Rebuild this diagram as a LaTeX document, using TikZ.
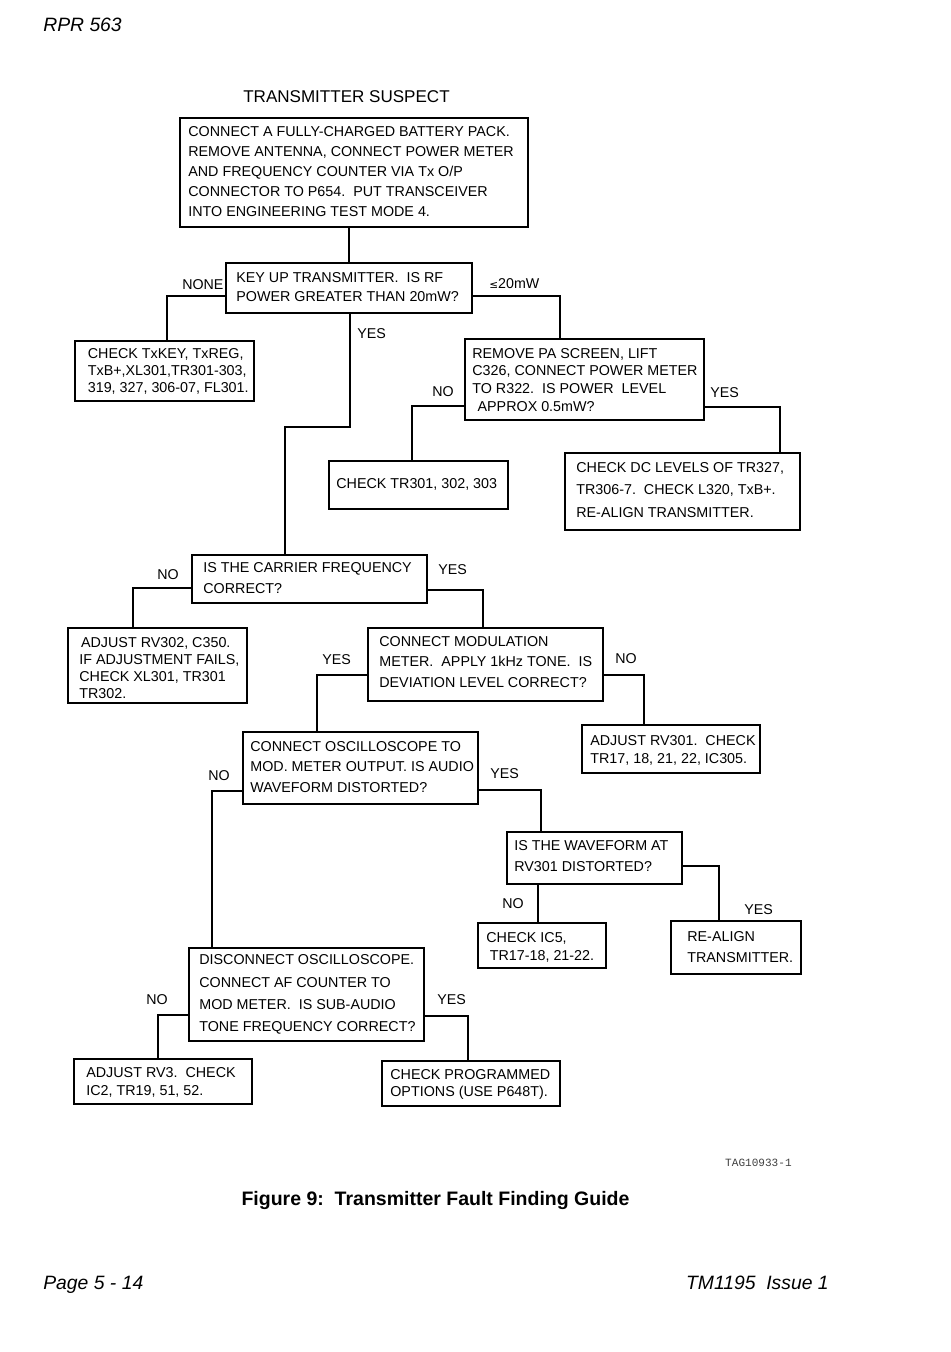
\documentclass[tikz,border=0pt]{standalone}
\usepackage{fontspec}
\setmainfont{Liberation Sans}
\newfontfamily\monofont{Liberation Mono}
\newfontfamily\symfont{DejaVu Sans}
\usetikzlibrary{calc,fit}
\begin{document}
\begin{tikzpicture}[x=0.02cm,y=-0.02cm,
  box/.style={draw, line width=1pt, inner sep=0pt, outer sep=0pt},
  txt/.style={anchor=west, inner sep=0pt, align=left, yshift=-0.02cm},
  lbl/.style={anchor=west, inner sep=0pt, font=\fontsize{8.1pt}{10pt}\selectfont},
  conn/.style={line width=1pt}]
\useasboundingbox[fill=white] (0,0) rectangle (950,1352);

% page furniture
\node[anchor=west, inner sep=0pt, font=\fontsize{11pt}{13pt}\selectfont\itshape] (hdr) at (43,25) {RPR 563};
\node[inner sep=0pt, font=\fontsize{9.7pt}{12pt}\selectfont] (title) at (346.5,96.5) {TRANSMITTER SUSPECT};
\node[anchor=east, inner sep=0pt, font=\fontsize{6.3pt}{8pt}\monofont, text=black!75] (tag) at (792,1163) {TAG10933-1};
\node[inner sep=0pt, font=\fontsize{11.1pt}{13pt}\selectfont\bfseries] (fig) at (435.5,1200.5) {Figure 9:\ \ Transmitter Fault Finding Guide};
\node[anchor=base west, inner sep=0pt, font=\fontsize{11pt}{13pt}\selectfont\itshape] (pg) at (43,1289) {Page 5 - 14};
\node[anchor=base east, inner sep=0pt, font=\fontsize{11pt}{13pt}\selectfont\itshape] (tm) at (829,1289) {TM1195\ \ Issue 1};

% boxes
\node[box, fit={(180,118) (528,227)}] (top) {};
\node[box, fit={(226,263) (472,313)}] (keyup) {};
\node[box, fit={(75,341) (254,401)}] (txkey) {};
\node[box, fit={(465,339) (704,420)}] (pa) {};
\node[box, fit={(329,461) (508,509)}] (tr301) {};
\node[box, fit={(565,453) (800,530)}] (dc) {};
\node[box, fit={(192,555) (427,603)}] (carrier) {};
\node[box, fit={(68,628) (247,703)}] (rv302) {};
\node[box, fit={(368,628) (603,701)}] (mod) {};
\node[box, fit={(582,725) (760,773)}] (rv301) {};
\node[box, fit={(243,732) (478,804)}] (osc) {};
\node[box, fit={(507,832) (682,884)}] (wave) {};
\node[box, fit={(478,923) (606,968)}] (ic5) {};
\node[box, fit={(671,921) (801,974)}] (realign) {};
\node[box, fit={(189,948) (424,1041)}] (disc) {};
\node[box, fit={(74,1059) (252,1104)}] (rv3) {};
\node[box, fit={(382,1061) (560,1106)}] (prog) {};

% box texts
\node[txt, font=\fontsize{8.15pt}{11.5pt}\selectfont] (topT) at (188,170.5) {CONNECT A FULLY-CHARGED BATTERY PACK.\\REMOVE ANTENNA, CONNECT POWER METER\\AND FREQUENCY COUNTER VIA Tx O/P\\CONNECTOR TO P654.\ \ PUT TRANSCEIVER\\INTO ENGINEERING TEST MODE 4.};
\node[txt, font=\fontsize{8.15pt}{11.3pt}\selectfont] (keyupT) at (236,286) {KEY UP TRANSMITTER.\ \ IS RF\\POWER GREATER THAN 20mW?};
\node[txt, font=\fontsize{8.15pt}{9.9pt}\selectfont] (txkeyT) at (87.5,370.5) {CHECK TxKEY, TxREG,\\TxB+,XL301,TR301-303,\\319, 327, 306-07, FL301.};
\node[txt, font=\fontsize{8.15pt}{10.2pt}\selectfont] (paT) at (472,379) {REMOVE PA SCREEN, LIFT\\C326, CONNECT POWER METER\\TO R322.\ \ IS POWER\ \ LEVEL\\\hspace*{3pt}APPROX 0.5mW?};
\node[txt, font=\fontsize{8.15pt}{10pt}\selectfont] (tr301T) at (336,483) {CHECK TR301, 302, 303};
\node[txt, font=\fontsize{8.15pt}{13pt}\selectfont] (dcT) at (576,489) {CHECK DC LEVELS OF TR327,\\TR306-7.\ \ CHECK L320, TxB+.\\RE-ALIGN TRANSMITTER.};
\node[txt, font=\fontsize{8.15pt}{11.9pt}\selectfont] (carrierT) at (203,577.5) {IS THE CARRIER FREQUENCY\\CORRECT?};
\node[txt, font=\fontsize{8.15pt}{9.8pt}\selectfont] (rv302T) at (79,667) {\hspace*{1pt}ADJUST RV302, C350.\\IF ADJUSTMENT FAILS,\\CHECK XL301, TR301\\TR302.};
\node[txt, font=\fontsize{8.15pt}{11.9pt}\selectfont] (modT) at (379,661) {CONNECT MODULATION\\METER.\ \ APPLY 1kHz TONE.\ \ IS\\DEVIATION LEVEL CORRECT?};
\node[txt, font=\fontsize{8.15pt}{10.2pt}\selectfont] (rv301T) at (590,749) {ADJUST RV301.\ \ CHECK\\TR17, 18, 21, 22, IC305.};
\node[txt, font=\fontsize{8.15pt}{11.9pt}\selectfont] (oscT) at (250,766) {CONNECT OSCILLOSCOPE TO\\MOD. METER OUTPUT. IS AUDIO\\WAVEFORM DISTORTED?};
\node[txt, font=\fontsize{8.15pt}{11.9pt}\selectfont] (waveT) at (514,855.5) {IS THE WAVEFORM AT\\RV301 DISTORTED?};
\node[txt, font=\fontsize{8.15pt}{10.2pt}\selectfont] (ic5T) at (486,946) {CHECK IC5,\\\hspace*{2pt}TR17-18, 21-22.};
\node[txt, font=\fontsize{8.15pt}{11.9pt}\selectfont] (realignT) at (687,946.5) {RE-ALIGN\\TRANSMITTER.};
\node[txt, font=\fontsize{8.15pt}{12.6pt}\selectfont] (discT) at (199,993.5) {DISCONNECT OSCILLOSCOPE.\\CONNECT AF COUNTER TO\\MOD METER.\ \ IS SUB-AUDIO\\TONE FREQUENCY CORRECT?};
\node[txt, font=\fontsize{8.15pt}{10.2pt}\selectfont] (rv3T) at (86,1081) {ADJUST RV3.\ \ CHECK\\IC2, TR19, 51, 52.};
\node[txt, font=\fontsize{8.15pt}{9.6pt}\selectfont] (progT) at (390,1083.5) {CHECK PROGRAMMED\\OPTIONS (USE P648T).};

% connectors
\coordinate (bend1) at (285,427);
\draw[conn] (top.south -| keyup.north) -- (keyup.north);
\draw[conn] ($(keyup.west)+(0,8)$) -| ($(txkey.north)+(2.5,0)$);
\draw[conn] ($(keyup.east)+(0,8)$) -| ($(pa.north)+(-24.5,0)$);
\draw[conn] ($(keyup.south)+(1,0)$) |- (bend1) -- (bend1 |- carrier.north);
\draw[conn] ($(pa.west)+(0,26.5)$) -| ($(tr301.north)+(-6.5,0)$);
\draw[conn] ($(pa.east)+(0,27.5)$) -| ($(dc.north)+(97.5,0)$);
\draw[conn] ($(carrier.west)+(0,9)$) -| ($(rv302.north)+(-24.5,0)$);
\draw[conn] ($(carrier.east)+(0,11)$) -| ($(mod.north)+(-2.5,0)$);
\draw[conn] ($(mod.west)+(0,10.5)$) -| ($(osc.north)+(-43.5,0)$);
\draw[conn] ($(mod.east)+(0,10.5)$) -| ($(rv301.north)+(-27,0)$);
\draw[conn] ($(osc.west)+(0,23)$) -| ($(disc.north)+(-94.5,0)$);
\draw[conn] ($(osc.east)+(0,22)$) -| ($(wave.north)+(-53.5,0)$);
\draw[conn] ($(wave.south)+(-56.5,0)$) -- ($(wave.south |- ic5.north)+(-56.5,0)$);
\draw[conn] ($(wave.east)+(0,8)$) -| ($(realign.north)+(-17,0)$);
\draw[conn] ($(disc.west)+(0,20.5)$) -| ($(rv3.north)+(-5,0)$);
\draw[conn] ($(disc.east)+(0,21.5)$) -| ($(prog.north)+(-3,0)$);

% labels
\node[lbl] (l1) at (182,284.5) {NONE};
\node[lbl] (l2) at (489,283.5) {{\symfont\fontsize{6pt}{7pt}\selectfont ≤}20mW};
\node[lbl] (l3) at (357,333.5) {YES};
\node[lbl] (l4) at (432,391.5) {NO};
\node[lbl] (l5) at (710,392.5) {YES};
\node[lbl] (l6) at (157,574.5) {NO};
\node[lbl] (l7) at (438,569.5) {YES};
\node[lbl] (l8) at (322,659.5) {YES};
\node[lbl] (l9) at (615,658.5) {NO};
\node[lbl] (l10) at (208,775.5) {NO};
\node[lbl] (l11) at (490,773.5) {YES};
\node[lbl] (l12) at (502,903.5) {NO};
\node[lbl] (l13) at (744,909.5) {YES};
\node[lbl] (l14) at (146,999.5) {NO};
\node[lbl] (l15) at (437,999.5) {YES};
\end{tikzpicture}
\end{document}
